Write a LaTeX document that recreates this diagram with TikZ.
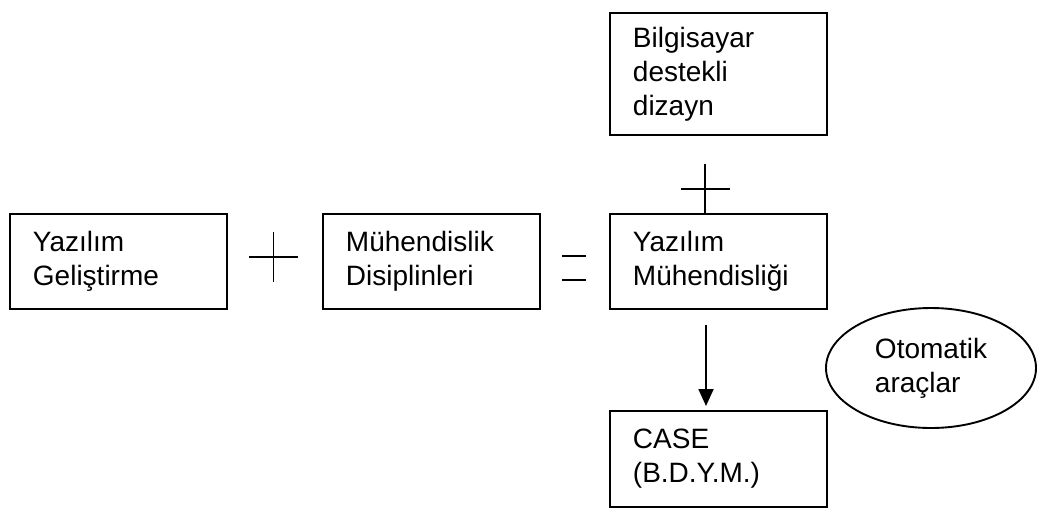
\documentclass[tikz,border=0pt]{standalone}
\usepackage{fontspec}
\setmainfont{Liberation Sans}
\usetikzlibrary{shapes.geometric,arrows.meta}
\begin{document}
\begin{tikzpicture}[x=1pt,y=-1pt,
  txt/.style={font=\fontsize{28}{34}\selectfont},
  box/.style={txt, draw, line width=1.9pt, rectangle, anchor=north west,
    minimum width=217pt, inner xsep=23pt, inner ysep=0pt, text width=171pt, align=left},
  oval/.style={txt, draw, line width=1.9pt, ellipse, minimum width=210pt,
    minimum height=120pt, inner sep=0pt, align=left},
  sym/.style={line width=1.9pt},
  arr/.style={line width=1.9pt, -{Triangle[length=17pt,width=15pt]}}
]
\useasboundingbox (0,0) rectangle (1038,507);
\node[box, minimum height=95pt] (yg) at (9,213) {Yazılım\\Geliştirme};
\node[box, minimum height=95pt] (md) at (322,213) {Mühendislik\\Disiplinleri};
\node[box, minimum height=95pt] (ym) at (609,213) {Yazılım\\Mühendisliği};
\node[box, minimum height=122pt] (bd) at (609,12) {Bilgisayar\\destekli\\dizayn};
\node[box, minimum height=96pt] (case) at (609,410) {CASE\\(B.D.Y.M.)};
\node[oval] (oto) at (931,368) {Otomatik\\araçlar};
% plus between first two boxes
\draw[sym] (249,257) -- (298,257) (273.5,232) -- (273.5,282);
% equals sign
\draw[sym] (562,256) -- (586,256) (562,280) -- (586,280);
% plus above Yazılım Mühendisliği
\coordinate (pt) at (705,164);
\draw[sym] (681,189) -- (730,189);
\draw[sym] (pt) -- (pt |- ym.north);
% arrow to CASE
\coordinate (ax) at (706,0);
\draw[arr, shorten <=15pt, shorten >=4pt] (ym.south -| ax) -- (case.north -| ax);
\end{tikzpicture}
\end{document}
